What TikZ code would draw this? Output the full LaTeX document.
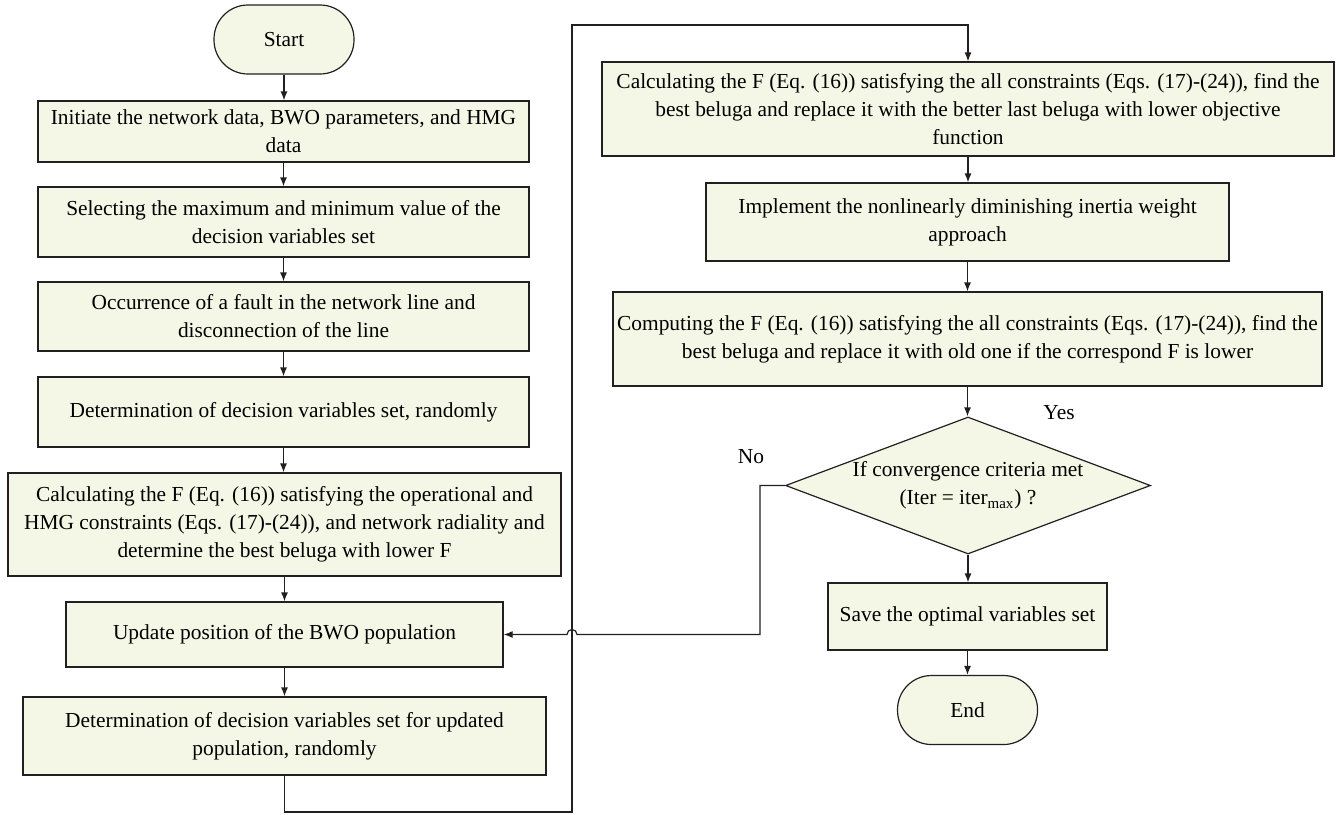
\documentclass[tikz,border=0pt]{standalone}
\usepackage{fontspec}
\setmainfont{Liberation Serif}
\usetikzlibrary{shapes.geometric,arrows.meta}
\definecolor{boxfill}{RGB}{245,247,230}
\definecolor{boxline}{RGB}{35,31,32}

\begin{document}
\begin{tikzpicture}[x=0.5pt, y=-0.5pt, font=\fontsize{10.7}{14}\selectfont,
  box/.style = {draw=boxline, fill=boxfill, line width=0.6pt, align=center, inner sep=1pt, minimum width=#1},
  box/.default = 100pt,
  term/.style = {draw=boxline, fill=boxfill, line width=0.6pt, rounded corners=17pt, minimum width=70pt, minimum height=34.5pt},
  decide/.style = {diamond, aspect=2.66, draw=boxline, fill=boxfill, line width=0.6pt, align=center, inner sep=0pt, minimum width=182.5pt, minimum height=68.5pt},
  arr/.style = {-{Latex[length=4.5pt, width=3.5pt]}, line width=0.6pt, draw=boxline}]

\useasboundingbox (0,0) rectangle (1336,814);

% Left column
\node[term] (start) at (284,39.5) {Start};
\node[box=245.5pt, minimum height=30.5pt] (init) at (283.5,131.5) {Initiate the network data, BWO parameters, and HMG\\data};
\node[box=245.5pt, minimum height=35pt] (select) at (283.5,222) {Selecting the maximum and minimum value of the\\decision variables set};
\node[box=245.5pt, minimum height=34.5pt] (fault) at (283.5,316.5) {Occurrence of a fault in the network line and\\disconnection of the line};
\node[box=245.5pt, minimum height=35pt] (random) at (283.5,412) {Determination of decision variables set, randomly};
\node[box=276.5pt, minimum height=51.5pt] (fitness) at (284.5,524.5) {Calculating the F (Eq. (16)) satisfying the operational and\\HMG constraints (Eqs. (17)-(24)), and network radiality and\\determine the best beluga with lower F};
\node[box=218.5pt, minimum height=32.5pt] (update) at (284.5,634.5) {Update position of the BWO population};
\node[box=261.5pt, minimum height=39pt] (newrandom) at (284.5,736) {Determination of decision variables set for updated\\population, randomly};

% Right column
\node[box=366pt, minimum height=47pt] (replace) at (968,109) {Calculating the F (Eq. (16)) satisfying the all constraints (Eqs. (17)-(24)), find the\\best beluga and replace it with the better last beluga with lower objective\\function};
\node[box=261.5pt, minimum height=39pt] (inertia) at (967.5,222) {Implement the nonlinearly diminishing inertia weight\\approach};
\node[box=354.5pt, minimum height=47pt] (compute) at (967.5,339) {Computing the F (Eq. (16)) satisfying the all constraints (Eqs. (17)-(24)), find the\\best beluga and replace it with old one if the correspond F is lower};
\node[decide] (conv) at (968,485.5) {If convergence criteria met\\(Iter = iter\textsubscript{max}) ?};
\node[box=139.5pt, minimum height=33.5pt] (save) at (967.5,616.5) {Save the optimal variables set};
\node[term] (finish) at (967.5,710) {End};

% Labels
\node (yes) at (1059,413) {Yes};
\node (no) at (751,457) {No};

% Arrows
\foreach \a/\b in {start/init, init/select, select/fault, fault/random, random/fitness, fitness/update, update/newrandom, replace/inertia, inertia/compute, compute/conv, conv/save, save/finish} {
  \draw[arr] (\a.south) -- (\a.south |- \b.north);
}

% Loop to the right column
\coordinate (bottomleft) at (572,812);
\coordinate (topleft) at (572,25);
\draw[arr] (newrandom.south) -- (newrandom.south |- bottomleft) -- (bottomleft) -- (topleft) -- (topleft -| replace.north) -- (replace.north);

% No branch
\coordinate (hop) at (577,634.5);
\draw[arr] (conv.west) -- ++(-25,0) |- (hop) arc[start angle=0, end angle=180, radius=2.5pt] -- (update.east);

\end{tikzpicture}
\end{document}
